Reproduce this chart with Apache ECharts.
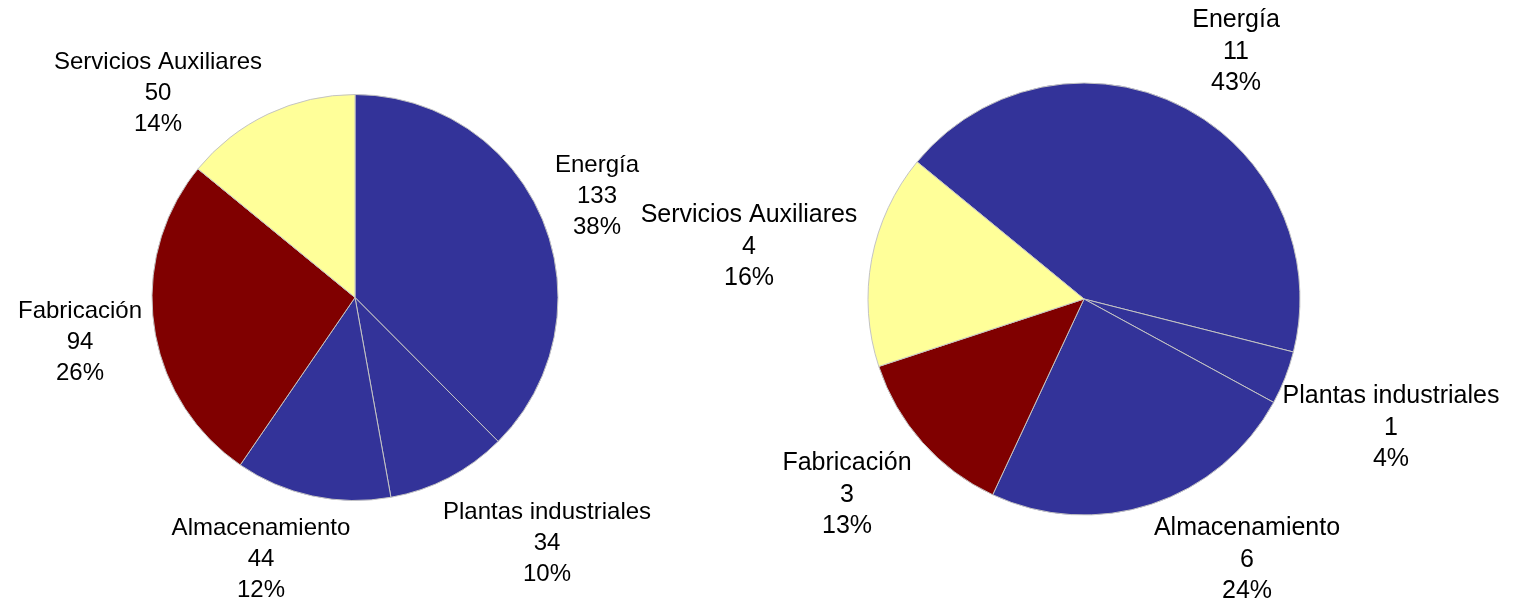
<!DOCTYPE html>
<html>
<head>
<meta charset="utf-8">
<script src="https://cdn.jsdelivr.net/npm/echarts@6/dist/echarts.min.js"></script>
<style>
  html, body { margin: 0; padding: 0; background: #ffffff; }
  #chart { width: 1517px; height: 606px; }
</style>
</head>
<body>
<div id="chart"></div>
<script>
// Sector names, shared by both pies (clockwise order)
const categories = ['Energía', 'Plantas industriales', 'Almacenamiento', 'Fabricación', 'Servicios Auxiliares'];

// Left pie values
const leftValues = [133.3, 34.2, 44.0, 93.6, 50.0];
// Right pie values
const rightValues = [10.75, 1, 6, 3.25, 4];

// Slice fill colours by category
const sliceColors = ['#333399', '#333399', '#333399', '#800000', '#FFFF99'];

// Label anchor offsets (px) from each pie's centre, one per category
const leftLabelOffsets = [[242, -101], [192, 246], [-94, 262], [-275, 45], [-197, -204]];
const rightLabelOffsets = [[152, -247], [307, 129], [163, 261], [-237, 196], [-335, -52]];

const leftCenter = [355, 297.5];
const rightCenter = [1084, 299];

function buildData(values) {
  return categories.map((name, i) => ({
    name: name,
    value: values[i],
    itemStyle: { color: sliceColors[i] }
  }));
}

function labelText(p) {
  return p.name + '\n' + Math.round(p.value) + '\n' + Math.round(p.percent) + '%';
}

function makeLayout(center, offsets) {
  return function (params) {
    const o = offsets[params.dataIndex];
    return {
      x: center[0] + o[0],
      y: center[1] + o[1],
      align: 'center',
      verticalAlign: 'middle'
    };
  };
}

function pieSeries(values, center, radius, startAngle, offsets, fontSize, lineHeight) {
  return {
    type: 'pie',
    center: center,
    radius: radius,
    startAngle: startAngle,
    clockwise: true,
    avoidLabelOverlap: false,
    percentPrecision: 2,
    data: buildData(values),
    itemStyle: { borderColor: '#c4c4c4', borderWidth: 1 },
    label: {
      show: true,
      position: 'outside',
      formatter: labelText,
      color: '#000000',
      fontFamily: '"Liberation Sans", Arial, sans-serif',
      fontSize: fontSize,
      lineHeight: lineHeight,
      align: 'center'
    },
    labelLine: { show: false },
    labelLayout: makeLayout(center, offsets),
    emphasis: { disabled: true },
    silent: true
  };
}

const chart = echarts.init(document.getElementById('chart'), null, { renderer: 'canvas' });
chart.setOption({
  backgroundColor: '#ffffff',
  animation: false,
  series: [
    pieSeries(leftValues, leftCenter, 203, 90, leftLabelOffsets, 24, 31),
    pieSeries(rightValues, rightCenter, 216, 140.6, rightLabelOffsets, 25, 31.5)
  ]
});
</script>
</body>
</html>
